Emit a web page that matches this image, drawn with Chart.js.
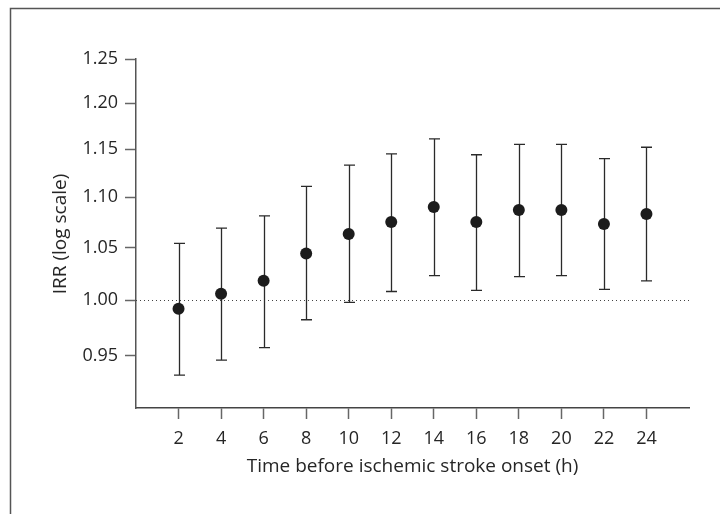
<!DOCTYPE html>
<html>
<head>
<meta charset="utf-8">
<script src="https://cdn.jsdelivr.net/npm/chart.js@4.4.1/dist/chart.umd.min.js"></script>
<style>
  html, body { margin: 0; padding: 0; background: #fff; }
  canvas { display: block; }
</style>
</head>
<body>
<canvas id="irr-chart" width="720" height="514"></canvas>
<script>
// hours before onset, point estimate and 95% CI
const hours = [2, 4, 6, 8, 10, 12, 14, 16, 18, 20, 22, 24];
const irr   = [0.992, 1.006, 1.018, 1.044, 1.063, 1.075, 1.090, 1.075, 1.087, 1.087, 1.073, 1.083];
const lower = [0.933, 0.946, 0.957, 0.982, 0.998, 1.008, 1.023, 1.009, 1.022, 1.023, 1.010, 1.018];
const upper = [1.054, 1.069, 1.081, 1.111, 1.133, 1.145, 1.161, 1.144, 1.155, 1.155, 1.140, 1.152];
const yTicks = [0.95, 1.00, 1.05, 1.10, 1.15, 1.20, 1.25];

const FONT = '"Open Sans", "Noto Sans", sans-serif';
const TEXT = '#262626';

// frame, reference line, error bars, y title
const figureExtras = {
    id: 'figureExtras',
    beforeDraw(chart) {
        const ctx = chart.ctx;
        ctx.save();
        ctx.strokeStyle = '#555';
        ctx.lineWidth = 1.5;
        ctx.beginPath();
        ctx.moveTo(10.5, 514);
        ctx.lineTo(10.5, 8.5);
        ctx.lineTo(720, 8.5);
        ctx.stroke();

        ctx.fillStyle = TEXT;
        ctx.font = '19px ' + FONT;
        ctx.textAlign = 'center';
        ctx.textBaseline = 'middle';
        ctx.translate(61, 234);
        ctx.rotate(-Math.PI / 2);
        ctx.fillText('IRR (log scale)', 0, 0);
        ctx.restore();
    },
    beforeDatasetsDraw(chart) {
        const { ctx, chartArea, scales: { x, y } } = chart;
        ctx.save();
        // dotted line at 1.00
        const y1 = Math.round(y.getPixelForValue(1.0)) + 0.5;
        ctx.strokeStyle = '#444';
        ctx.lineWidth = 1;
        ctx.setLineDash([1, 3]);
        ctx.beginPath();
        ctx.moveTo(chartArea.left, y1);
        ctx.lineTo(chartArea.right, y1);
        ctx.stroke();
        ctx.setLineDash([]);

        ctx.strokeStyle = '#2a2a2a';
        ctx.lineWidth = 1.3;
        hours.forEach((h, i) => {
            const px = Math.round(x.getPixelForValue(h)) + 0.5;
            const top = y.getPixelForValue(upper[i]);
            const bot = y.getPixelForValue(lower[i]);
            ctx.beginPath();
            ctx.moveTo(px, top);
            ctx.lineTo(px, bot);
            ctx.moveTo(px - 5.5, top);
            ctx.lineTo(px + 5.5, top);
            ctx.moveTo(px - 5.5, bot);
            ctx.lineTo(px + 5.5, bot);
            ctx.stroke();
        });
        ctx.restore();
    }
};

new Chart(document.getElementById('irr-chart'), {
    type: 'scatter',
    data: {
        datasets: [{
            data: hours.map((h, i) => ({ x: h, y: irr[i] })),
            pointRadius: 6,
            pointHoverRadius: 6,
            backgroundColor: '#1c1c1c',
            borderWidth: 0
        }]
    },
    options: {
        responsive: false,
        animation: false,
        devicePixelRatio: 1,
        layout: { padding: { left: 0, top: 59, right: 31, bottom: 0 } },
        plugins: { legend: { display: false }, tooltip: { enabled: false } },
        scales: {
            x: {
                type: 'linear',
                min: 0,
                max: 26,
                afterBuildTicks: s => { s.ticks = hours.map(v => ({ value: v })); },
                afterFit: s => { s.height = 106; },
                grid: { drawOnChartArea: false, tickLength: 11, tickColor: '#666', tickWidth: 1.5 },
                border: { color: '#444', width: 1.5 },
                ticks: { padding: 9, color: TEXT, font: { family: FONT, size: 18 }, maxRotation: 0, autoSkip: false },
                title: {
                    display: true,
                    text: 'Time before ischemic stroke onset (h)',
                    color: TEXT,
                    font: { family: FONT, size: 19 },
                    padding: { top: 0, bottom: 36 }
                }
            },
            y: {
                type: 'logarithmic',
                min: 0.905,
                max: 1.25,
                afterBuildTicks: s => { s.ticks = yTicks.map(v => ({ value: v })); },
                afterFit: s => { s.width = 136; },
                grid: { drawOnChartArea: false, tickLength: 11, tickColor: '#666', tickWidth: 1.5 },
                border: { color: '#555', width: 1.5 },
                ticks: {
                    padding: 7,
                    color: TEXT,
                    font: { family: FONT, size: 18 },
                    callback: v => Number(v).toFixed(2)
                }
            }
        }
    },
    plugins: [figureExtras]
});
</script>
</body>
</html>
